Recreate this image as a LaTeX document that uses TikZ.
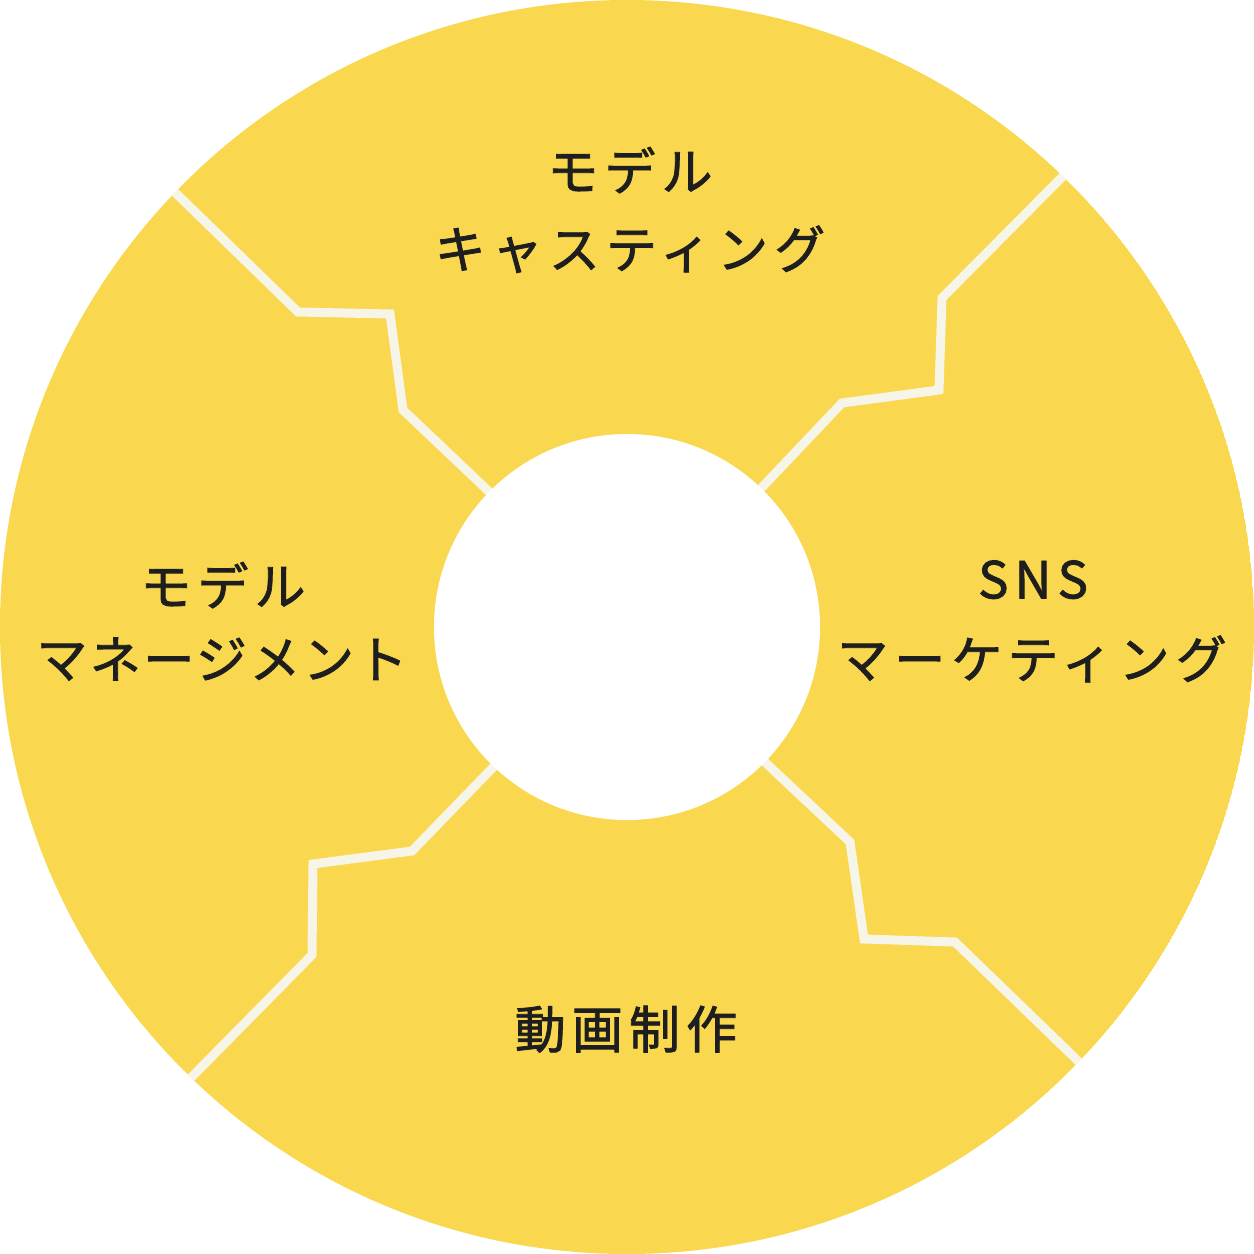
\documentclass[tikz,border=0pt]{standalone}
\usepackage{fontspec}
\newfontfamily\jp[LetterSpace=12,FakeBold=1.5]{Noto Sans CJK JP}
\newfontfamily\jpnarrow[LetterSpace=5,FakeBold=1.5]{Noto Sans CJK JP}
\definecolor{ringyellow}{RGB}{249,216,80}
\definecolor{seamwhite}{RGB}{247,244,232}
\definecolor{inkdark}{RGB}{30,30,30}
\tikzset{
  seam/.style={draw=seamwhite, line width=0.09cm, line join=miter},
  lbl/.style={inner sep=0pt, text=inkdark, font=\jp\fontsize{14.5}{17}\selectfont, text height=0.88em, text depth=0.12em},
  lblnarrow/.style={lbl, font=\jpnarrow\fontsize{14.5}{17}\selectfont}
}
\begin{document}
\begin{tikzpicture}[x=0.01cm,y=-0.01cm]
\useasboundingbox (0,0) rectangle (1254,1254);
\coordinate (C) at (627,627);
\begin{scope}
  \clip (C) circle (627);
  \fill[ringyellow] (C) circle (627);
  \draw[seam] (150,168) -- (298,312) -- (390,314) -- (403,410) -- (500,502);
  \draw[seam] (1085,154) -- (942,298) -- (939,390) -- (842,403) -- (750,500);
  \draw[seam] (752,750) -- (850,842) -- (864,939) -- (955,942) -- (1105,1087);
  \draw[seam] (505,755) -- (412,851) -- (313,864) -- (312,955) -- (168,1101);
\end{scope}
\fill[white] (C) circle (193);
\node[lbl] (t1) at (630,177) {モデル};
\node[lbl] (t2) at (630,255) {キャスティング};
\node[lbl] (r1) at (1033,585) {SNS};
\node[lbl] (r2) at (1032,665) {マーケティング};
\node[lbl] (l1) at (223,592) {モデル};
\node[lblnarrow] (l2) at (222,665) {マネージメント};
\node[lbl] (b1) at (626,1035) {動画制作};
\end{tikzpicture}
\end{document}
